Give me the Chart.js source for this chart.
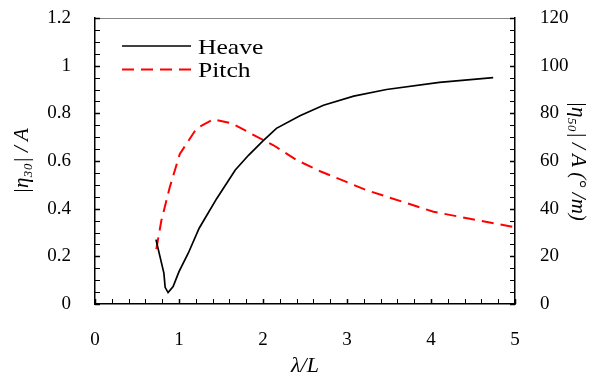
<!DOCTYPE html>
<html>
<head>
<meta charset="utf-8">
<script src="https://cdn.jsdelivr.net/npm/chart.js@4/dist/chart.umd.min.js"></script>
<style>
html,body{margin:0;padding:0;background:#fff;}
#wrap{width:595px;height:381px;position:relative;}
</style>
</head>
<body>
<div id="wrap"><canvas id="c" width="595" height="381"></canvas></div>
<script>
// ---- data ----
const heaveX = [0.726, 0.82, 0.835, 0.87, 0.93, 1.0, 1.11, 1.24, 1.45, 1.67, 1.83, 2.0, 2.16, 2.44, 2.72, 3.08, 3.47, 4.1, 4.74];
const heaveY = [0.27, 0.13, 0.07, 0.048, 0.073, 0.136, 0.213, 0.318, 0.443, 0.562, 0.625, 0.684, 0.737, 0.79, 0.834, 0.872, 0.9, 0.93, 0.95];
const pitchX = [0.73, 0.79, 0.89, 1.01, 1.21, 1.41, 1.63, 1.89, 2.12, 2.4, 2.68, 3.23, 4.03, 4.43, 5.0];
const pitchY = [23, 35, 49, 63, 73.7, 77.5, 75.8, 70.9, 66.7, 60.4, 55.7, 47.8, 38.7, 36.0, 32.2];
const seriesNames = ["Heave", "Pitch"];
const xTitle = "λ/L";
const yLeftTitle = "|η₃₀| / A";
const yRightTitle = "|η₅₀| / A (° /m)";

const FONT = "'Liberation Serif','Times New Roman',serif";

const toPts = (xs, ys) => xs.map((x, i) => ({x: x, y: ys[i]}));

const tickPlugin = {
  id: 'inTicks',
  afterDraw(chart) {
    const ctx = chart.ctx;
    const a = chart.chartArea;
    const sx = chart.scales.x, sl = chart.scales.y, sr = chart.scales.y2;
    ctx.save();
    ctx.strokeStyle = '#888';
    ctx.lineWidth = 1;
    ctx.beginPath(); ctx.moveTo(a.left, a.top + 0.5); ctx.lineTo(a.right, a.top + 0.5); ctx.stroke();
    ctx.strokeStyle = '#000';
    const L = 5;
    for (let i = 0; i <= 25; i++) {
      const v = i * 0.2;
      const px = Math.round(sx.getPixelForValue(v)) + 0.5;
      ctx.lineWidth = (i % 5 === 0) ? 1.5 : 1;
      ctx.beginPath(); ctx.moveTo(px, a.bottom); ctx.lineTo(px, a.bottom - L); ctx.stroke();
    }
    for (let i = 0; i <= 24; i++) {
      const v = i * 0.05;
      const py = Math.round(sl.getPixelForValue(v)) + 0.5;
      ctx.lineWidth = (i % 4 === 0) ? 1.5 : 1;
      ctx.beginPath(); ctx.moveTo(a.left, py); ctx.lineTo(a.left + L, py); ctx.stroke();
    }
    for (let i = 0; i <= 24; i++) {
      const v = i * 5;
      const py = Math.round(sr.getPixelForValue(v)) + 0.5;
      ctx.lineWidth = (i % 4 === 0) ? 1.5 : 1;
      ctx.beginPath(); ctx.moveTo(a.right, py); ctx.lineTo(a.right - L, py); ctx.stroke();
    }
    const ds = chart.data.datasets;
    const rows = [46, 69.5];
    ds.forEach((d, i) => {
      const y = rows[i];
      ctx.strokeStyle = d.borderColor;
      ctx.lineWidth = d.borderWidth;
      ctx.setLineDash(d.borderDash || []);
      ctx.beginPath(); ctx.moveTo(122, y); ctx.lineTo(191, y); ctx.stroke();
      ctx.setLineDash([]);
      ctx.save();
      ctx.translate(198, y + 2);
      ctx.scale(1.22, 1);
      ctx.font = "21px " + FONT;
      ctx.textBaseline = 'middle';
      ctx.textAlign = 'left';
      ctx.fillStyle = '#000';
      ctx.fillText(d.label, 0, 0);
      ctx.restore();
    });
    ctx.restore();
  }
};

const fitV = w => s => { s.width = w; s.paddingTop = 0; s.paddingBottom = 0; };

new Chart(document.getElementById('c'), {
  type: 'scatter',
  data: {
    datasets: [
      {label: seriesNames[0], data: toPts(heaveX, heaveY), yAxisID: 'y', showLine: true,
       borderColor: '#000', borderWidth: 1.7, pointRadius: 0, tension: 0, fill: false},
      {label: seriesNames[1], data: toPts(pitchX, pitchY), yAxisID: 'y2', showLine: true,
       borderColor: '#ff0000', borderWidth: 2, borderDash: [12, 7], pointRadius: 0, tension: 0, fill: false}
    ]
  },
  options: {
    responsive: false,
    animation: false,
    devicePixelRatio: 1,
    layout: {padding: {top: 18, left: 0, right: 0, bottom: 0}},
    plugins: {legend: {display: false}, tooltip: {enabled: false}},
    scales: {
      x: {
        type: 'linear', min: 0, max: 5,
        ticks: {stepSize: 1, color: '#000', font: {family: FONT, size: 19}, padding: 17, maxRotation: 0},
        grid: {display: false},
        border: {display: true, color: '#000', width: 1.5},
        title: {display: true, text: xTitle, color: '#000', font: {family: FONT, size: 22, style: 'italic'}, padding: {top: 0, bottom: 2}},
        afterFit: s => { s.height = 77; s.paddingLeft = 0; s.paddingRight = 0; }
      },
      y: {
        type: 'linear', position: 'left', min: 0, max: 1.2,
        ticks: {stepSize: 0.2, color: '#000', font: {family: FONT, size: 19}, padding: 16,
                callback: v => Number(v.toFixed(1)).toString()},
        grid: {display: false},
        border: {display: true, color: '#000', width: 1.5},
        title: {display: true, text: yLeftTitle, color: '#000', font: {family: FONT, size: 21, style: 'italic'}, padding: {top: 10, bottom: 0}},
        afterFit: fitV(95)
      },
      y2: {
        type: 'linear', position: 'right', min: 0, max: 120,
        ticks: {stepSize: 20, color: '#000', font: {family: FONT, size: 19}, padding: 17},
        grid: {display: false},
        border: {display: true, color: '#000', width: 1.5},
        title: {display: true, text: yRightTitle, color: '#000', font: {family: FONT, size: 21, style: 'italic'}, padding: {top: 5, bottom: 0}},
        afterFit: fitV(80)
      }
    }
  },
  plugins: [tickPlugin]
});
</script>
</body>
</html>
